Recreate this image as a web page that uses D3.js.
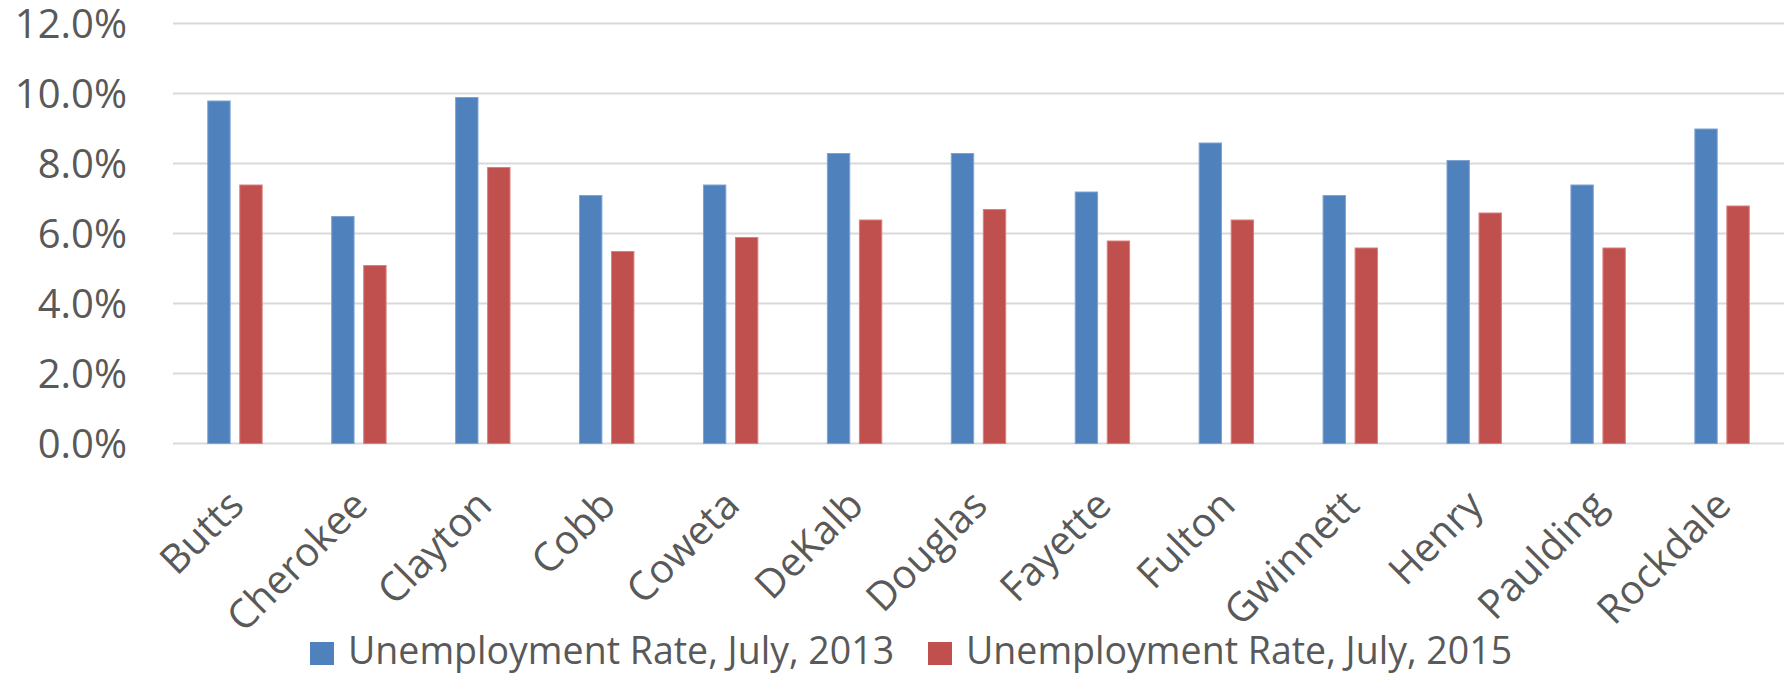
<!DOCTYPE html>
<html><head><meta charset="utf-8">
<script src="https://cdn.jsdelivr.net/npm/d3@7"></script>
<style>body{margin:0;background:#fff;}svg{display:block;}</style>
</head><body>
<svg id="c" width="1788" height="674"></svg>
<script>
const categories = ["Butts","Cherokee","Clayton","Cobb","Coweta","DeKalb","Douglas","Fayette","Fulton","Gwinnett","Henry","Paulding","Rockdale"];
const rate2013 = [9.8,6.5,9.9,7.1,7.4,8.3,8.3,7.2,8.6,7.1,8.1,7.4,9.0];
const rate2015 = [7.4,5.1,7.9,5.5,5.9,6.4,6.7,5.8,6.4,5.6,6.6,5.6,6.8];
const seriesNames = ["Unemployment Rate, July, 2013","Unemployment Rate, July, 2015"];
const yTicks = [0,2,4,6,8,10,12];
const colors = ["#4F81BD","#C0504D"];
const edgeColors = ["#7FA3D3","#D97F7C"];

const svg = d3.select("#c");
const plotLeft = 173, plotRight = 1784, plotTop = 23.5, plotBottom = 443.5;
const font = "'Open Sans', sans-serif";
const textColor = "#595959";

const x = d3.scaleBand().domain(categories).range([plotLeft, plotRight]).paddingInner(0).paddingOuter(0);
const y = d3.scaleLinear().domain([0, 12]).range([plotBottom, plotTop]);
const sub = d3.scaleBand().domain([0,1]).range([0, x.bandwidth()]).paddingInner(0.27).paddingOuter(1.07);

// gridlines
svg.append("g").selectAll("line").data(yTicks).join("line")
  .attr("x1", plotLeft).attr("x2", plotRight)
  .attr("y1", d => y(d)).attr("y2", d => y(d))
  .attr("stroke", "#D9D9D9").attr("stroke-width", 2);

// y labels
const yAxis = d3.axisLeft(y).tickValues(yTicks).tickFormat(d => d.toFixed(1) + "%").tickSize(0).tickPadding(0);
const ya = svg.append("g").attr("transform", `translate(127,0)`).call(yAxis);
ya.select(".domain").remove();
ya.selectAll("text").attr("font-family", font).attr("font-size", 40).attr("fill", textColor).attr("dy", "0.36em");

// bars
const series = [rate2013, rate2015];
series.forEach((vals, si) => {
  svg.append("g").selectAll("rect").data(vals).join("rect")
    .attr("x", (d, i) => x(categories[i]) + sub(si) + 0.5)
    .attr("width", sub.bandwidth() - 1)
    .attr("y", d => y(d) + 0.5)
    .attr("height", d => y(0) - y(d) - 0.5)
    .attr("fill", colors[si])
    .attr("stroke", edgeColors[si]).attr("stroke-width", 1);
});

// x labels
const xAxis = d3.axisBottom(x).tickSize(0).tickPadding(0);
const xa = svg.append("g").attr("transform", `translate(0,${plotBottom})`).call(xAxis);
xa.select(".domain").remove();
xa.selectAll("text")
  .attr("font-family", font).attr("font-size", 40).attr("fill", textColor)
  .attr("text-anchor", "end").attr("dy", null).attr("y", 0)
  .attr("transform", "translate(11,64) rotate(-45)");

// legend
const legendX = [310, 928];
const lg = svg.append("g");
seriesNames.forEach((name, i) => {
  lg.append("rect").attr("x", legendX[i]).attr("y", 642).attr("width", 24).attr("height", 23).attr("fill", colors[i]);
  lg.append("text").attr("x", legendX[i] + 38).attr("y", 664)
    .attr("font-family", font).attr("font-size", 37.5).attr("fill", textColor)
    .text(name);
});
</script>
</body></html>
